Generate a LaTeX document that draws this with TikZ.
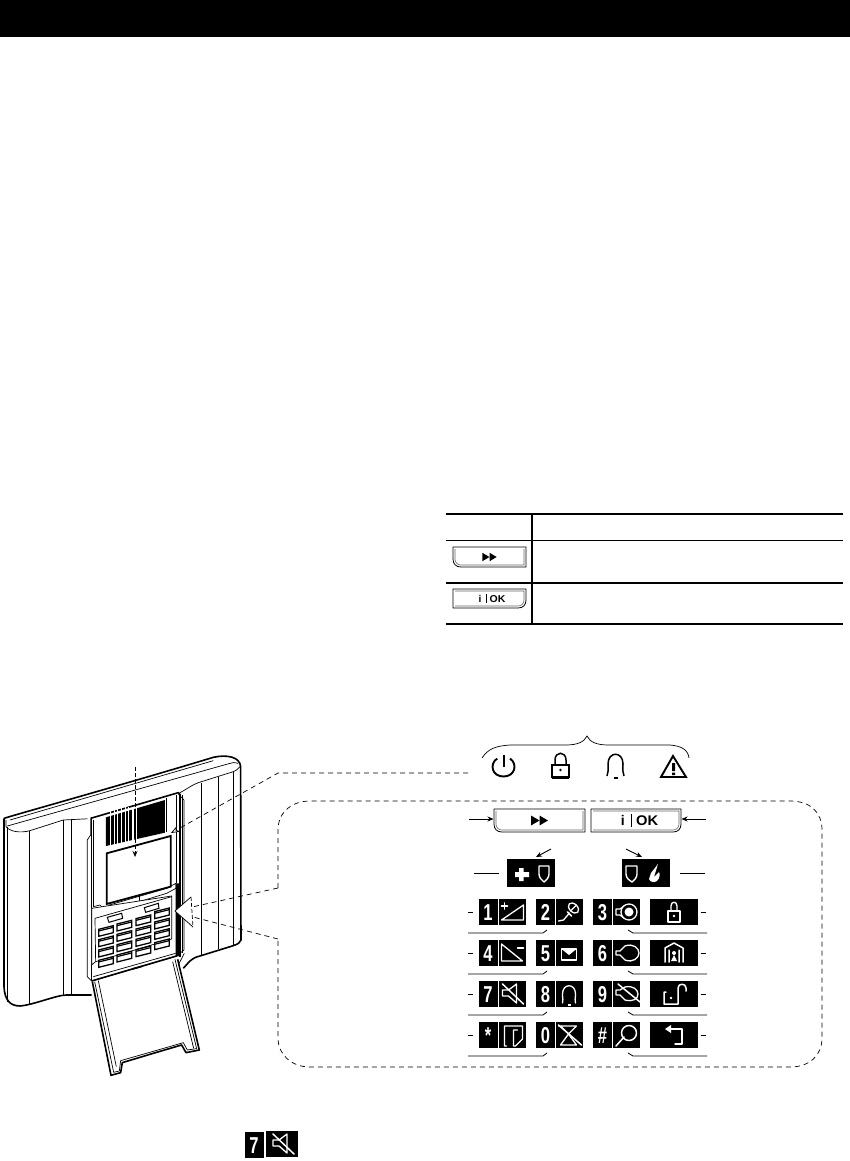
\documentclass[tikz,border=0pt]{standalone}
\usepackage{fontspec}
\setmainfont{Liberation Sans}
\usetikzlibrary{arrows.meta}
\tikzset{
 ico/.style={draw=white,line width=1.3pt,line cap=round,line join=round},
 blk/.style={fill=black,draw=none},
 dsh/.style={dash pattern=on 5pt off 4pt,line width=.7pt},
 dev/.style={line width=.7pt,line join=round},
 devt/.style={line width=1.6pt,line join=round},
 tbl/.style={line width=1.6pt},
 tblh/.style={line width=2.8pt},
 dig/.style={text=white,font=\bfseries\fontsize{23}{23}\selectfont,inner sep=0pt,xscale=.72},
 pt/.style={-{Stealth[length=6pt,width=5pt]},line width=.9pt},
 und/.style={line width=.8pt},
}
\newcounter{digc}
\newcommand{\iconbox}[4]{\fill[blk] (#1,#2) rectangle ++(#3,26);
 \begin{scope}[shift={(#1,#2)}] #4 \end{scope}}
\newcommand{\digbox}[3]{\fill[blk] (#1,#2) rectangle ++(19,26);
 \stepcounter{digc}\node[dig] (key\arabic{digc}) at (#1+9.5,#2+13.5) {#3};}
\newcommand{\icoPlusRamp}{\draw[ico] (3,21)--(25,21)--(25,6)--cycle; \draw[ico,line width=1.6pt] (3,7)--(9,7) (6,4)--(6,10);}
\newcommand{\icoMinusRamp}{\draw[ico] (3,4)--(3,21)--(24,21)--cycle; \draw[ico,line width=1.5pt] (19,8)--(25,8);}
\newcommand{\icoMic}{\draw[ico] (3,22)--(8,21)--(14,14); \draw[ico,line width=1.6pt] (12,13)--(16,17); \draw[ico,rotate around={45:(18,9)}] (18,9) ellipse (4pt and 6pt); \draw[ico] (15,12)--(21,6);}
\newcommand{\icoBulbOn}{\draw[ico] (3,10)--(7,10)--(11,7) (3,16)--(7,16)--(11,19) (3,10)--(3,16); \draw[ico,fill=black] (16,13) circle (8pt); \fill[white] (16,13) circle (4.5pt);}
\newcommand{\icoBulbOff}{\draw[ico] (3,11)--(7,11)--(12,6) .. controls (20,3) and (26,8) .. (26,13) .. controls (26,18) and (20,23) .. (12,20)--(7,15)--(3,15)--cycle;}
\newcommand{\icoBulbX}{\draw[ico] (3,9)--(7,9)--(12,6) .. controls (20,4) and (25,9) .. (25,13) .. controls (25,18) and (20,21) .. (12,19)--(7,14)--(3,14)--cycle; \draw[ico,line width=1.5pt] (5,3)--(27,21);}
\newcommand{\icoEnv}{\draw[ico,line width=1.4pt] (6,9) rectangle (21,20); \fill[white] (6,9)--(21,9)--(13.5,15)--cycle;}
\newcommand{\icoBell}{\draw[ico] (7,22) .. controls (8,20) and (7,18) .. (7,13) .. controls (7,2) and (20,2) .. (20,13) .. controls (20,18) and (19,20) .. (20,22); \fill[white] (12,23) rectangle (15,25);}
\newcommand{\icoMute}{\draw[ico] (4,9)--(10,9)--(18,3)--(18,22)--(10,15)--(4,15)--cycle; \draw[ico,line width=1.5pt] (4,3)--(25,23);}
\newcommand{\icoMemo}{\draw[ico] (8,24)--(6,24)--(6,4)--(24,4)--(24,17)--(17,24)--(15,24)--(15,8)--(19,8);}
\newcommand{\icoHour}{\draw[ico] (3,4)--(21,4) (5,4)--(13,12)--(5,23) (21,4)--(13,12)--(21,23) (5,23)--(21,23); \draw[ico,line width=1.5pt] (3,3)--(26,23);}
\newcommand{\icoSearch}{\draw[ico,line width=1.5pt] (16,11) circle (7.5pt); \draw[ico,line width=1.5pt] (3,24)--(11,15);}
\newcommand{\icoLock}{\draw[ico,line width=1.5pt] (-6,12) rectangle (6,23); \draw[ico] (-3,12)--(-3,7) .. controls (-3,2) and (3,2) .. (3,7)--(3,12); \fill[white] (0,17) circle (1.3pt);}
\newcommand{\icoHome}{\draw[ico,line width=1.5pt] (-9,22)--(-9,8)--(0,3)--(9,8)--(9,22) (-5,22)--(-5,10) (5,22)--(5,10); \fill[white] (0,13) circle (2pt) (-3,21)--(0,15)--(3,21)--cycle;}
\newcommand{\icoUnlock}{\draw[ico,line width=1.5pt] (-8,11)--(-10,11)--(-10,23)--(4,23)--(4,7) .. controls (4,2) and (12,2) .. (12,7)--(12,10); \fill[white] (-3,17) circle (1.3pt);}
\newcommand{\icoBack}{\draw[ico,line width=1.5pt] (-3,7)--(8,7)--(8,22)--(1,22); \fill[white] (-9,7)--(-3,3)--(-3,11)--cycle;}
\newcommand{\keyrow}[8]{%
 \draw[und] (468,#1+13)--(473,#1+13); \draw[und] (700.5,#1+13)--(706,#1+13);
 \digbox{478.5}{#1}{#2}\iconbox{498.5}{#1}{27}{#3}
 \digbox{536}{#1}{#4}\iconbox{555.5}{#1}{27}{#5}
 \digbox{593}{#1}{#6}\iconbox{613}{#1}{27}{#7}
 \iconbox{650}{#1}{48}{\begin{scope}[shift={(24,0)}]#8\end{scope}}
 \draw[und] (468,#1+34)--(543,#1+34)--(547,#1+31);
 \draw[und] (628,#1+31)--(633,#1+34)--(707,#1+34);
}
\newcommand{\fwdbtn}[5]{%
 \draw[line width=.8pt,fill=white] (#1,#2)--(#1,#2+#4-8) .. controls (#1,#2+#4-3) and (#1+3,#2+#4) .. (#1+8,#2+#4)--(#1+#3,#2+#4)--(#1+#3,#2)--cycle;
 \draw[line width=.6pt,black!60] (#1+2,#2+2)--(#1+2,#2+#4-8) .. controls (#1+2,#2+#4-4.5) and (#1+4.5,#2+#4-2) .. (#1+8,#2+#4-2)--(#1+#3-2,#2+#4-2)--(#1+#3-2,#2+2);
 \fill (#1+#3/2-8.5*#5,#2+#4/2-5*#5)--(#1+#3/2,#2+#4/2)--(#1+#3/2-8.5*#5,#2+#4/2+5*#5)--cycle;
 \fill (#1+#3/2,#2+#4/2-5*#5)--(#1+#3/2+8.5*#5,#2+#4/2)--(#1+#3/2,#2+#4/2+5*#5)--cycle;
}
\newcommand{\okbtn}[6]{%
 \draw[line width=.8pt,fill=white] (#1,#2)--(#1+#3,#2)--(#1+#3,#2+#4-8) .. controls (#1+#3,#2+#4-3) and (#1+#3-3,#2+#4) .. (#1+#3-8,#2+#4)--(#1,#2+#4)--cycle;
 \draw[line width=.6pt,black!60] (#1+2,#2+2)--(#1+#3-2,#2+2)--(#1+#3-2,#2+#4-8) .. controls (#1+#3-2,#2+#4-4.5) and (#1+#3-4.5,#2+#4-2) .. (#1+#3-8,#2+#4-2)--(#1+2,#2+#4-2);
 \node[inner sep=0pt,font=\bfseries\fontsize{#5}{#5}\selectfont] (#6i) at (#1+#3/2-.95*#5,#2+#4/2) {i};
 \draw[line width=.6pt] (#1+#3/2-.32*#5,#2+#4/2-.45*#5)--(#1+#3/2-.32*#5,#2+#4/2+.45*#5);
 \node[inner sep=0pt,xscale=1.05,font=\bfseries\fontsize{#5}{#5}\selectfont] (#6ok) at (#1+#3/2+.8*#5,#2+#4/2+.3) {OK};
}
\begin{document}
\begin{tikzpicture}[x=1pt,y=-1pt]
\useasboundingbox (0,0) rectangle (850,1161);
\fill[white] (0,0) rectangle (850,1161);
\fill[black] (0,0) rectangle (850,37);
% table
\draw[tblh] (446,514)--(843,514);
\draw[tbl] (446,540.5)--(843,540.5);
\draw[tbl] (446,583)--(843,583);
\draw[tblh] (446,624)--(843,624);
\draw[tblh] (532,514)--(532,624);
\fwdbtn{453}{547}{73}{20}{.85}
\okbtn{453}{589}{73}{19}{10}{tok}
% device (zoom coordinates)
\begin{scope}[shift={(0,720)},x=.3333pt,y=-.3333pt]
 \draw[devt] (12,295) .. controls (60,280) and (400,185) .. (640,112) .. controls (680,103) and (720,110) .. (722,140)
   -- (723,660) .. controls (720,668) and (715,672) .. (700,677) -- (600,708) .. controls (570,715) and (565,730) .. (550,745);
 \draw[devt] (12,295) -- (12,800) .. controls (14,840) and (30,858) .. (60,858) .. controls (100,855) and (170,825) .. (200,825) -- (275,825);
 \draw[dev] (18,300) -- (18,320) .. controls (30,335) and (60,340) .. (90,332) -- (190,300) -- (270,296);
 \draw[dev] (22,318) -- (683,132) (683,132) .. controls (700,128) and (705,125) .. (715,130);
 \draw[dev] (30,300) -- (640,122);
 \draw[dev] (540,218) .. controls (565,205) and (575,195) .. (595,188) -- (700,155) .. controls (712,150) and (715,145) .. (720,140);
 \draw[dev] (88,333)--(88,855) (190,300)--(190,827) (215,298)--(215,825);
 \draw[dev] (22,320)--(22,845);
 \draw[dev] (603,188)--(603,705) (655,172)--(655,688) (700,155)--(700,677);
 % central panel
 \fill[white] (262,295)--(535,218)--(552,240)--(552,690)--(530,708)--(275,783)--(262,770)--cycle;
 \draw[devt] (272,295) -- (535,218) -- (540,222);
 \draw[dev] (272,295)--(272,345)--(262,360)--(262,770)--(275,783)--(530,708)--(552,690)--(552,240)--(535,222);
 \draw[dev] (280,300)--(280,560) (528,225)--(528,490) (500,235)--(500,335);
 \draw[dev] (275,290)--(275,780);
 \draw[devt] (540,222)--(540,710);
 \draw[dev] (546,225)--(546,700);
 \fill (527,490)--(540,490)--(540,708)--(527,710)--cycle;
 % speaker
 \fill (318,292)--(495,240)--(495,338)--(318,378)--cycle;
 \foreach \xv in {329,341,352,363,374,385,396,408}{\fill[white] (\xv,260)rectangle(\xv+2.5,400);}
 \fill[white] (398,262) rectangle (403,370);
 % LCD
 \draw[line width=1.8pt] (320,400)--(512,348)--(512,500)--(320,552)--cycle;
 % strip under LCD
 \draw[dev] (280,560)--(300,555)--(320,575)--(500,520)--(528,505)--(528,490);
 \draw[dev] (325,556)--(500,505)--(528,490);
 \draw[dev] (418,525)--(418,545);
 % keypad panel
 \draw[dev,fill=white] (275,565)--(515,528)--(515,657)--(287,725)--(275,735)--cycle;
 \draw[dev] (285,595)--(515,530) (285,595)--(287,725);
 % big keys
 \draw[line width=1pt,fill=white] (322,592)--(365,580)--(368,595)--(327,607)--cycle;
 \draw[line width=1pt,fill=white] (433,563)--(475,550)--(477,565)--(437,577)--cycle;
 \foreach \xv/\yv in {296/628,351/612,408/596,464/575}{
  \foreach \n in {0,1,2,3}{
   \draw[line width=1.3pt,fill=white] (\xv,\yv+\n*31)--(\xv+44,\yv+\n*31-11)--(\xv+44,\yv+\n*31+10)--(\xv,\yv+\n*31+21)--cycle;
   \draw[line width=1.2pt] (\xv,\yv+\n*31+5)--(\xv+44,\yv+\n*31-6);
  }
 }
 % lid hinge
 \draw[devt] (275,783)--(530,708);
 \draw[dev] (280,770)--(527,700);
 \fill (395,745)--(425,737)--(425,742)--(395,750)--cycle;
 % lid
 \draw[devt] (277,785)--(333,1066)--(362,1058)--(367,1028)--(460,1000)--(545,975)--(558,998)--(598,990)--(533,718);
 \draw[dev] (284,785)--(341,1057)--(358,1053)--(362,1022)--(460,994)--(550,968)--(562,990)--(590,986)--(525,718);
 \draw[dev] (295,782)--(349,1040) (518,725)--(581,985);
 \draw[dev] (553,700)--(535,735);
\end{scope}
\coordinate (ctop) at (468,773);
\coordinate (cbend) at (278,773);
\coordinate (cscreen) at (171,833);
\coordinate (vtop) at (135,767);
\coordinate (vend) at (135,857);
\coordinate (bu) at (278,888);
\coordinate (bl) at (278,939);
\coordinate (tu) at (192,907);
\coordinate (tl) at (193,917);
\coordinate (ttip) at (175,911);
\coordinate (thi) at (191,897);
\coordinate (tlo) at (193,927);
\draw[dsh,-{Stealth[open,length=9pt,width=7pt,fill=white]}] (ctop)--(cbend)--(cscreen);
\draw[dash pattern=on 3.5pt off 2.5pt,line width=.7pt,-{Stealth[length=6pt,width=5pt]}] (vtop)--(vend);
\draw[dsh] (bu)--(278,830) .. controls (278,812) and (292,801) .. (310,801) -- (790,801) .. controls (810,801) and (822,812) .. (822,830)
  -- (822,1038) .. controls (822,1055) and (810,1067) .. (790,1067) -- (310,1067) .. controls (292,1067) and (278,1055) .. (278,1038) -- (bl);
\draw[dsh] (bu)--(tu);
\draw[dsh] (bl)--(tl);
\fill[white] (ttip)--(thi)--(tlo)--cycle;
\draw[line width=.7pt] (thi)--(ttip)--(tlo);
\draw[line width=.7pt,dash pattern=on 4pt off 2pt] (thi)--(tlo);
% brace
\draw[line width=.7pt] (482,758) .. controls (488,749) and (495,746) .. (510,745) -- (565,745) .. controls (578,745) and (584,742) .. (587,736) .. controls (590,742) and (596,745) .. (609,745) -- (670,745) .. controls (682,746) and (688,750) .. (689,758);
% top icons
\draw[line width=1.9pt] (497.2,758.5) .. controls (489,764) and (492,776.5) .. (503.5,776.5) .. controls (515,776.5) and (518,764) .. (510,758.5);
\draw[line width=2pt] (503.5,755)--(503.5,767);
\draw[line width=1.5pt] (552,765) rectangle (569,777);
\fill (552,776) rectangle (569,779);
\draw[line width=1.5pt] (555,765)--(555,760) .. controls (555,751) and (566,751) .. (566,760)--(566,765);
\fill (560.5,770) circle (1.3pt);
\draw[line width=1.5pt] (607,776) .. controls (608.5,773) and (608,770) .. (608,764) .. controls (608,751) and (623,751) .. (623,764) .. controls (623,770) and (622.5,773) .. (624,776);
\fill (614,777) rectangle (617.5,779);
\draw[line width=1.9pt,line join=miter] (661,777)--(673,756)--(686,777)--cycle;
\fill (672,763) rectangle (675,771) (672,772.5) rectangle (675,775);
% function keys
\fwdbtn{494}{809}{91}{23}{1}
\okbtn{591}{809}{90}{23}{14}{mok}
\draw[pt] (469,819)--(493.5,819);
\draw[pt] (706,819)--(681.5,819);
\draw[pt] (551,849)--(536,857);
\draw[pt] (626,849)--(642,857);
\fill[blk] (507,859) rectangle (555,887);
\fill[blk] (622,859) rectangle (670,887);
\draw[und] (474,873)--(499,873);
\draw[und] (680,873)--(705,873);
\fill[white] (519,868) rectangle (523.5,881) (515,872) rectangle (529,877);
\draw[ico,line width=1.4pt] (539,866)--(549,866)--(549,874) .. controls (549,878) and (546,880) .. (544,882) .. controls (542,880) and (539,878) .. (539,874)--cycle;
\draw[ico,line width=1.4pt] (626,866)--(637,866)--(637,874) .. controls (637,878) and (634,880) .. (632,882) .. controls (629,880) and (626,878) .. (626,874)--cycle;
\fill[white] (658,864)--(651,873)--(649,879) .. controls (650,882) and (654,883) .. (657,881) .. controls (660,878) and (660,874) .. (659,872)--(654,877)--cycle;
% keypad
\keyrow{899}{1}{\icoPlusRamp}{2}{\icoMic}{3}{\icoBulbOn}{\icoLock}
\keyrow{940}{4}{\icoMinusRamp}{5}{\icoEnv}{6}{\icoBulbOff}{\icoHome}
\keyrow{981}{7}{\icoMute}{8}{\icoBell}{9}{\icoBulbX}{\icoUnlock}
\keyrow{1022}{*}{\icoMemo}{0}{\icoHour}{\#}{\icoSearch}{\icoBack}
% bottom key
\digbox{244.5}{1132}{7}
\iconbox{266}{1131}{32}{\begin{scope}[shift={(3,0)}]\icoMute\end{scope}}
\end{tikzpicture}
\end{document}
